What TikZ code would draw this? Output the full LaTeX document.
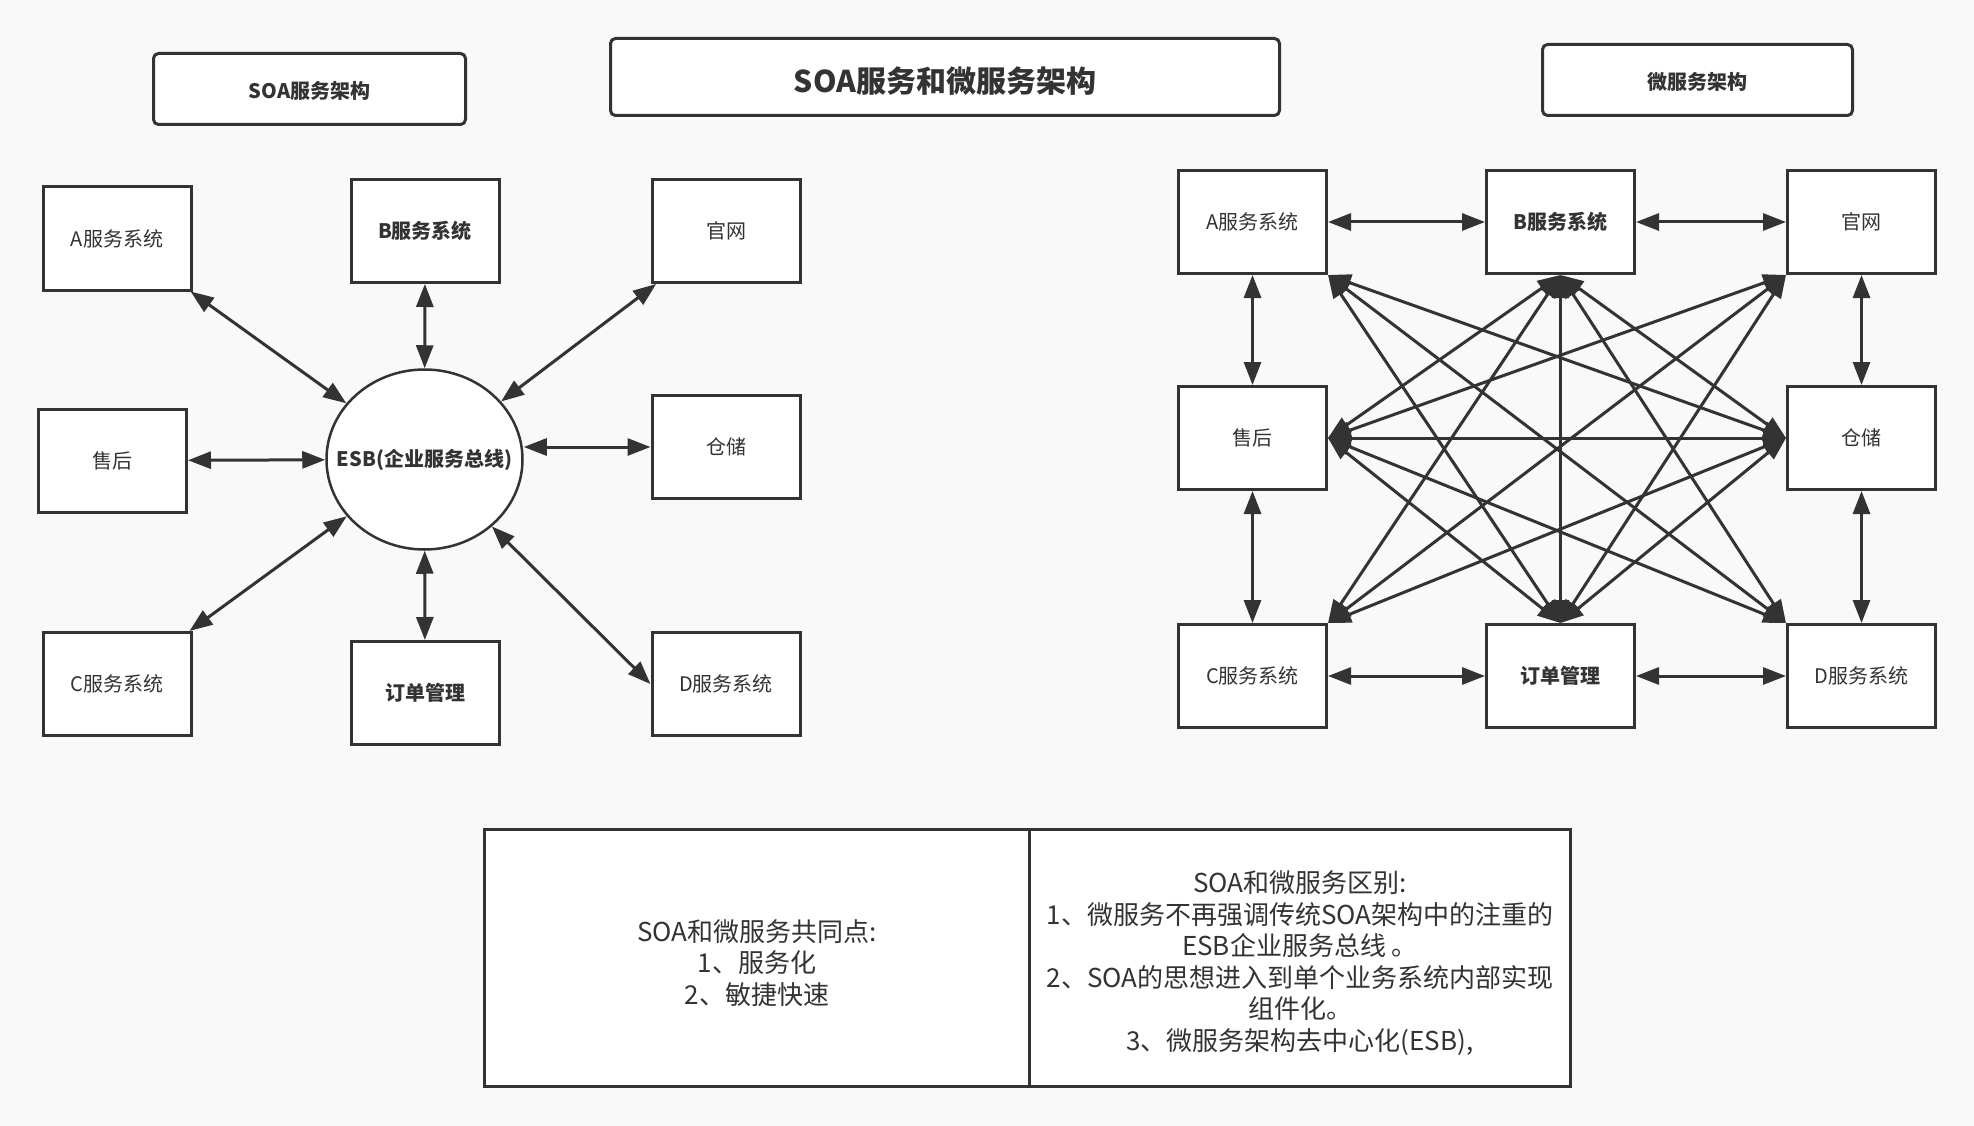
\documentclass[tikz,border=0pt]{standalone}
\usepackage{fontspec}
\setmainfont{Noto Sans CJK SC}
\usepackage{xcolor}
\usetikzlibrary{positioning,arrows.meta,shapes.geometric}
\definecolor{ink}{HTML}{333333}
\definecolor{paper}{HTML}{F9F9F9}

\begin{document}
\begin{tikzpicture}[
      x=1pt, y=-1pt,
      svc/.style={draw=ink, line width=3pt, fill=white, minimum width=148pt,
                  minimum height=103pt, inner sep=0pt, text=ink,
                  font=\fontsize{20}{24}\selectfont},
      core/.style={svc, font=\bfseries\fontsize{20}{24}\selectfont},
      bus/.style={ellipse, draw=ink, line width=2.5pt, fill=white,
                  minimum width=196pt, minimum height=180pt, inner sep=0pt},
      caption/.style={draw=ink, line width=3pt, fill=white, rounded corners=5pt,
                  inner sep=0pt, text=ink, font=\bfseries\fontsize{20}{24}\selectfont},
      note/.style={draw=ink, line width=3pt, fill=white, inner sep=0pt,
                  minimum height=257pt},
      notetext/.style={align=center, text=ink, inner sep=0pt,
                  font=\fontsize{26}{31.5}\selectfont},
      link/.style={{Triangle[length=23pt,width=17pt]}-{Triangle[length=23pt,width=17pt]},
                  line width=3pt, draw=ink},
    ]
    \fill[paper] (0,0) rectangle (1974,1126);
    \useasboundingbox (0,0) rectangle (1974,1126);

    % headings
    \node[caption, minimum width=669pt, minimum height=77pt, text height=33pt,
          font=\bfseries\fontsize{30}{36}\selectfont] (title) at (945,77) {SOA服务和微服务架构};
    \node[caption, minimum width=312pt, minimum height=71pt, text height=20pt] (soaCap) at (309.5,89) {SOA服务架构};
    \node[caption, minimum width=310pt, minimum height=71pt, text height=20pt] (msCap) at (1697.5,80) {微服务架构};

    % SOA: services around the bus
    \node[bus] (esb) at (424.5,459.5) {};
    \node[text=ink, font=\bfseries\fontsize{20}{24}\selectfont] (esbText) at (esb) {ESB(企业服务总线)};
    \node[svc] (soaA) at (117,238.5) {A服务系统};
    \node[core] (soaB) at (425,231) {B服务系统};
    \node[svc] (soaWeb) at (726,231) {官网};
    \node[svc] (soaAfter) at (112.5,460.5) {售后};
    \node[svc] (soaStore) at (726,447) {仓储};
    \node[svc] (soaC) at (117,684) {C服务系统};
    \node[core] (soaOrder) at (425,693) {订单管理};
    \node[svc] (soaD) at (726,684) {D服务系统};
    \draw[link] (soaA) -- (esb);
    \draw[link] (soaB) -- (esb);
    \draw[link] (soaWeb) -- (esb);
    \draw[link] (soaAfter) -- (esb);
    \draw[link] (soaStore.west) -- (soaStore.west -| esb.east);
    \draw[link] (soaC) -- (esb);
    \draw[link] (soaOrder) -- (esb);
    \draw[link] (soaD.west) -- (esb);

    % microservices: every service talks to the others
    \node[svc] (msA) at (1252.5,222) {A服务系统};
    \node[core, right=157pt of msA] (msB) {B服务系统};
    \node[svc, right=150pt of msB] (msWeb) {官网};
    \node[svc, below=110pt of msA] (msAfter) {售后};
    \node[svc, below=110pt of msWeb] (msStore) {仓储};
    \node[svc, below=132pt of msAfter] (msC) {C服务系统};
    \node[core, right=157pt of msC] (msOrder) {订单管理};
    \node[svc, right=150pt of msOrder] (msD) {D服务系统};
    \draw[link] (msA) -- (msB);
    \draw[link] (msB) -- (msWeb);
    \draw[link] (msC) -- (msOrder);
    \draw[link] (msOrder) -- (msD);
    \draw[link] (msA) -- (msAfter);
    \draw[link] (msAfter) -- (msC);
    \draw[link] (msWeb) -- (msStore);
    \draw[link] (msStore) -- (msD);
    \draw[link] (msA.south east) -- (msStore.west);
    \draw[link] (msA.south east) -- (msOrder.north);
    \draw[link] (msA.south east) -- (msD.north west);
    \draw[link] (msB.south) -- (msAfter.east);
    \draw[link] (msB.south) -- (msC.north east);
    \draw[link] (msB.south) -- (msOrder.north);
    \draw[link] (msB.south) -- (msStore.west);
    \draw[link] (msB.south) -- (msD.north west);
    \draw[link] (msWeb.south west) -- (msAfter.east);
    \draw[link] (msWeb.south west) -- (msOrder.north);
    \draw[link] (msWeb.south west) -- (msC.north east);
    \draw[link] (msAfter.east) -- (msStore.west);
    \draw[link] (msAfter.east) -- (msOrder.north);
    \draw[link] (msAfter.east) -- (msD.north west);
    \draw[link] (msStore.west) -- (msOrder.north);
    \draw[link] (msStore.west) -- (msC.north east);

    % comparison table
    \node[note, minimum width=545pt] (same) at (757,958) {};
    \node[note, minimum width=541pt, right=-3pt of same] (diff) {};
    \node[notetext] (sameText) at ([yshift=-5pt]same.center)
      {SOA和微服务共同点:\\1、服务化\\2、敏捷快速};
    \node[notetext] (diffText) at ([yshift=-5pt]diff.center)
      {SOA和微服务区别:\\1、微服务不再强调传统SOA架构中的注重的\\ESB企业服务总线 。\\2、SOA的思想进入到单个业务系统内部实现\\组件化。\\3、微服务架构去中心化(ESB),};
  \end{tikzpicture}
\end{document}
